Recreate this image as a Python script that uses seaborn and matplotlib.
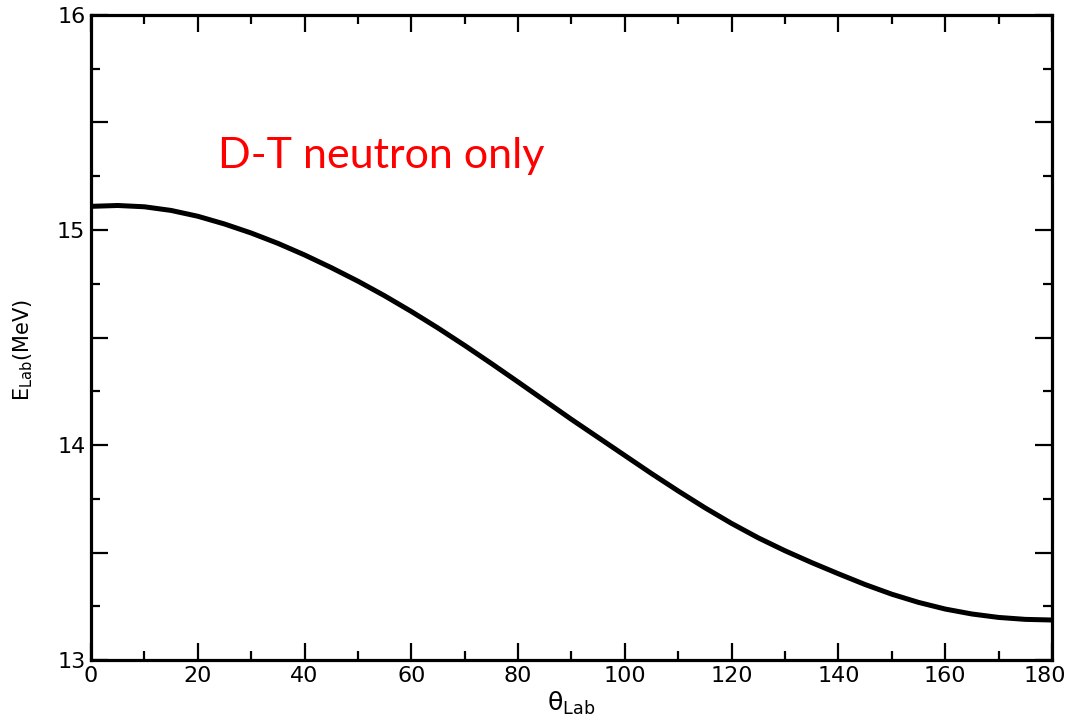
import matplotlib
matplotlib.use("Agg")
import matplotlib.pyplot as plt
from matplotlib.ticker import MultipleLocator, FuncFormatter
from matplotlib.transforms import ScaledTranslation
import numpy as np
import pandas as pd
import seaborn as sns

# Lab-frame neutron energy versus lab angle for the D-T reaction
theta_lab = [0, 5, 10, 15, 20, 25, 30, 35, 40, 45, 50, 55, 60, 65, 70, 75, 80, 85, 90,
             95, 100, 105, 110, 115, 120, 125, 130, 135, 140, 145, 150, 155, 160, 165,
             170, 175, 180]
e_lab = [15.110, 15.114, 15.108, 15.091, 15.064, 15.028, 14.986, 14.938, 14.884,
         14.825, 14.762, 14.694, 14.621, 14.544, 14.463, 14.379, 14.293, 14.206,
         14.119, 14.035, 13.951, 13.867, 13.786, 13.708, 13.635, 13.568, 13.508,
         13.453, 13.401, 13.351, 13.306, 13.268, 13.237, 13.214, 13.198, 13.189,
         13.186]

x_ticks = [0, 20, 40, 60, 80, 100, 120, 140, 160, 180]
y_ticks = [13, 14, 15, 16]

df = pd.DataFrame({"theta": theta_lab, "energy": e_lab})

sns.set_style("ticks")
plt.rcParams["font.family"] = ["DejaVu Sans"]

fig = plt.figure(figsize=(10.69, 7.28), dpi=100)
ax = fig.add_axes([0.0851, 0.0934, 0.8990, 0.8860])

sns.lineplot(data=df, x="theta", y="energy", ax=ax, color="black",
             linewidth=3.6, solid_capstyle="butt", solid_joinstyle="round")

ax.set_xlim(0, 180)
ax.set_ylim(13, 16)

ax.set_xticks(x_ticks)
ax.xaxis.set_minor_locator(MultipleLocator(10))
ax.yaxis.set_major_locator(MultipleLocator(0.5))
ax.yaxis.set_minor_locator(MultipleLocator(0.25))
ax.yaxis.set_major_formatter(
    FuncFormatter(lambda v, p: f"{int(round(v))}" if any(abs(v - t) < 1e-6 for t in y_ticks) else ""))

for s in ax.spines.values():
    s.set_linewidth(2.3)
    s.set_color("black")

ax.tick_params(which="both", direction="in", top=True, right=True,
               color="black", width=1.6, labelsize=16, labelcolor="black")
ax.tick_params(which="major", length=12, pad=4)
ax.tick_params(which="minor", length=6.5)

# nudge the last x label so it stays inside the figure
last = ax.get_xticklabels()[-1]
last.set_transform(last.get_transform() + ScaledTranslation(-7 / 100, 0, fig.dpi_scale_trans))

ax.set_xlabel("θ$_{\\rm Lab}$", fontsize=18, labelpad=3, color="black")
ax.set_ylabel("E$_{\\rm Lab}$(MeV)", fontsize=15, color="black")
ax.yaxis.set_label_coords(-0.058, 0.48)

ax.text(0.132, 0.782, "D-T neutron only", transform=ax.transAxes,
        color="#ff0000", fontsize=31, family=["Lato", "DejaVu Sans"],
        ha="left", va="center")

fig.savefig("out.png", dpi=100, facecolor="white")
